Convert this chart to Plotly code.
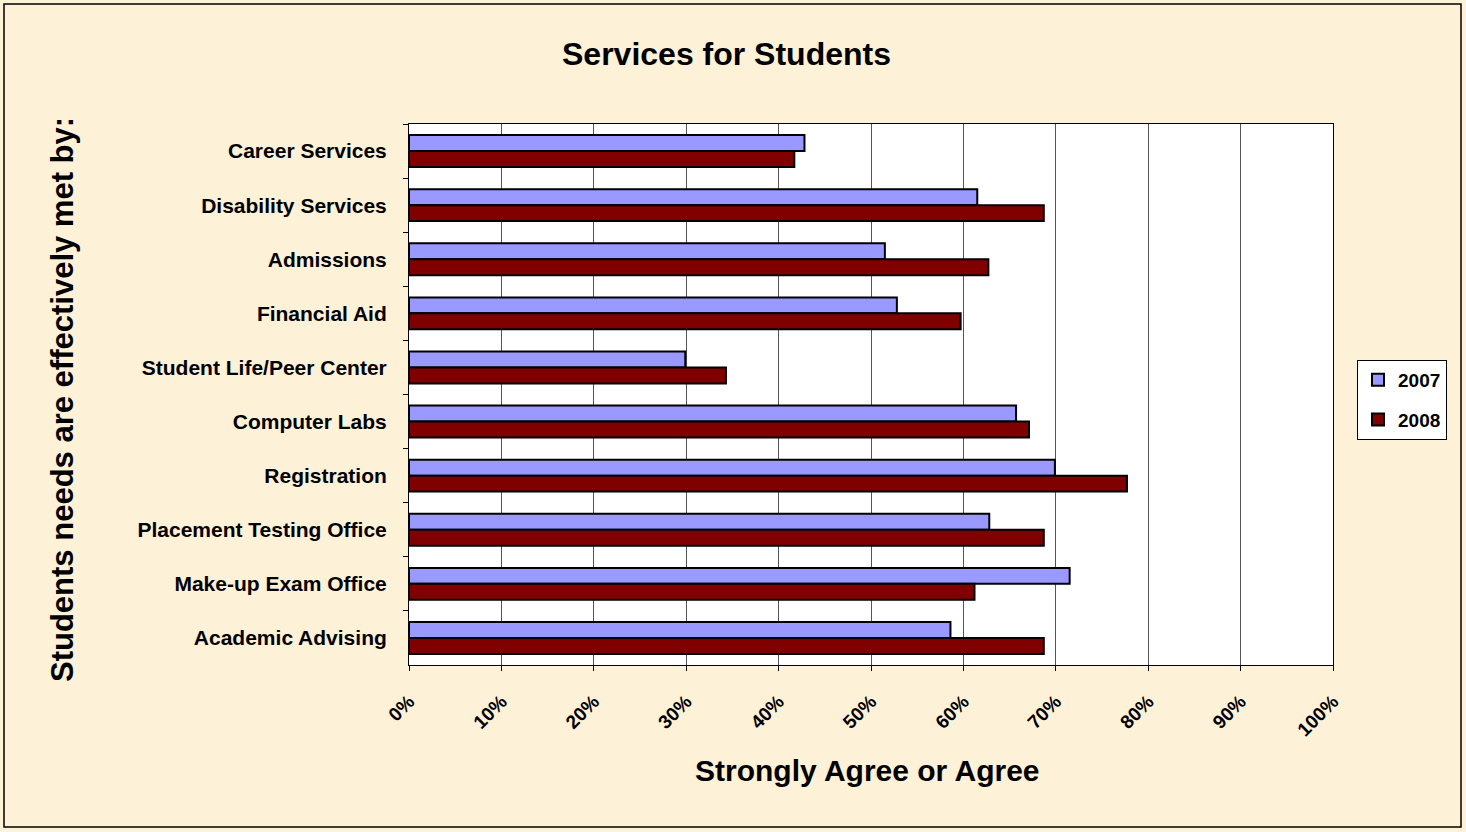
import plotly.graph_objects as go

categories = ["Career Services", "Disability Services", "Admissions", "Financial Aid",
              "Student Life/Peer Center", "Computer Labs", "Registration",
              "Placement Testing Office", "Make-up Exam Office", "Academic Advising"]
values_2007 = [0.428, 0.615, 0.515, 0.528, 0.299, 0.657, 0.699, 0.628, 0.715, 0.586]
values_2008 = [0.417, 0.687, 0.627, 0.597, 0.343, 0.671, 0.777, 0.687, 0.612, 0.687]
x_ticks = [0, 0.1, 0.2, 0.3, 0.4, 0.5, 0.6, 0.7, 0.8, 0.9, 1.0]

FONT = "Liberation Sans, Arial, sans-serif"

fig = go.Figure()
fig.add_trace(go.Bar(y=categories, x=values_2007, name="2007", orientation="h",
                     legendgroup="a",
                     marker=dict(color="#9999FF", line=dict(color="black", width=2))))
fig.add_trace(go.Bar(y=categories, x=values_2008, name="2008", orientation="h",
                     legendgroup="b",
                     marker=dict(color="#800000", line=dict(color="black", width=2))))

fig.update_layout(
    width=1466, height=832,
    margin=dict(l=409, r=133, t=124, b=167),
    paper_bgcolor="#FDF1D8",
    plot_bgcolor="white",
    barmode="group",
    bargap=0.41,
    bargroupgap=0,
    font=dict(family=FONT, color="black"),
    showlegend=True,
    legend=dict(x=(1357 - 409) / 924, y=(665 - 360) / 541, xanchor="left", yanchor="top",
                bgcolor="white", bordercolor="black", borderwidth=1,
                font=dict(size=19, family=FONT, weight="bold"),
                tracegroupgap=12, itemwidth=30),
    xaxis=dict(range=[0, 1], tickvals=x_ticks, tickformat=".0%", tickangle=-45,
               tickfont=dict(size=19, family=FONT, weight="bold"),
               ticklabelstandoff=12,
               showgrid=True, gridcolor="#555555", gridwidth=1,
               showline=True, linecolor="black", linewidth=1, mirror=True,
               ticks="outside", ticklen=5, tickcolor="black", zeroline=False),
    yaxis=dict(autorange="reversed", tickson="boundaries",
               tickfont=dict(size=21, family=FONT, weight="bold"),
               ticklabelstandoff=17,
               showline=True, linecolor="black", linewidth=1, mirror=True,
               ticks="outside", ticklen=5, tickcolor="black", showgrid=False),
    shapes=[dict(type="rect", xref="paper", yref="paper",
                 x0=(4 - 409) / 924, x1=(1461 - 409) / 924,
                 y0=(665 - 827) / 541, y1=(665 - 4) / 541,
                 line=dict(color="black", width=1.5), layer="below")],
    annotations=[
        dict(text="Services for Students", xref="paper", yref="paper",
             x=(726 - 409) / 924, y=(665 - 54) / 541, showarrow=False,
             xanchor="center", yanchor="middle",
             font=dict(size=32, family=FONT, weight="bold")),
        dict(text="Strongly Agree or Agree", xref="paper", yref="paper",
             x=(867 - 409) / 924, y=(665 - 770) / 541, showarrow=False,
             xanchor="center", yanchor="middle",
             font=dict(size=30, family=FONT, weight="bold")),
        dict(text="Students needs are effectively met by:", xref="paper", yref="paper",
             x=(62 - 409) / 924, y=(665 - 400) / 541, showarrow=False, textangle=-90,
             xanchor="center", yanchor="middle",
             font=dict(size=31, family=FONT, weight="bold")),
    ],
)

fig.write_html("out.html", config={"displayModeBar": False},
               post_script="document.body.style.margin='0';")
